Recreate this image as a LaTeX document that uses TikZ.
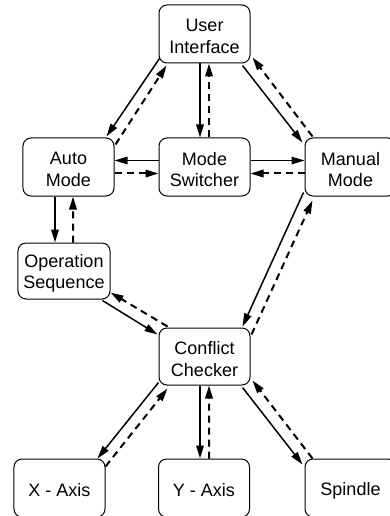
\documentclass[tikz,border=0pt]{standalone}
\usepackage{fontspec}
\setmainfont{Liberation Sans}
\usetikzlibrary{arrows.meta}
\tikzset{
  box/.style={draw=black, line width=1bp, rounded corners=8bp, minimum width=91bp,
    minimum height=58bp, inner sep=0pt},
  lbl/.style={align=center, inner sep=0pt, yshift=-2.5bp,
    font=\fontsize{18bp}{21.3bp}\selectfont},
  txt/.style={label={[lbl]center:#1}},
  sol/.style={line width=1.5bp, -{Triangle[length=13bp,width=7.5bp]}},
  dsh/.style={line width=2bp, dash pattern=on 7bp off 5bp, -{Triangle[length=13bp,width=7.5bp]}},
}
\begin{document}
\begin{tikzpicture}[x=1bp,y=-1bp]
\useasboundingbox (0,0) rectangle (389,516);
\node[box, txt={User\\Interface}] (ui) at (204.5,34) {};
\node[box, txt={Auto\\Mode}] (auto) at (68.5,167) {};
\node[box, txt={Mode\\Switcher}] (ms) at (204.5,167) {};
\node[box, txt={Manual\\Mode}] (man) at (350.5,167) {};
\node[box, minimum width=92bp, minimum height=56bp, txt={Operation\\Sequence}] (op) at (64,271) {};
\node[box, minimum height=57bp, txt={Conflict\\Checker}] (cc) at (204.5,356.5) {};
\node[box, txt={X - Axis}] (xa) at (59.5,488) {};
\node[box, txt={Y - Axis}] (ya) at (204,488) {};
\node[box, txt={Spindle}] (sp) at (350.5,488) {};

\draw[sol] ([shift={(1,-5)}]ui.south west) -- ([shift={(-8,-1)}]auto.north east);
\draw[dsh] ([shift={(1,7)}]auto.north east) -- ([shift={(8,2)}]ui.south west);

\draw[sol] ([shift={(-4.5,0)}]ui.south) -- ([shift={(-4.5,0)}]ms.north);
\draw[dsh] ([shift={(4.5,0)}]ms.north) -- ([shift={(4.5,0)}]ui.south);

\draw[sol] ([shift={(-8,2)}]ui.south east) -- ([shift={(-2,5)}]man.north west);
\draw[dsh] ([shift={(8,-1)}]man.north west) -- ([shift={(2,-6)}]ui.south east);

\draw[sol] ([shift={(0,-6.5)}]ms.west) -- ([shift={(0,-6.5)}]auto.east);
\draw[dsh] ([shift={(0,6.5)}]auto.east) -- ([shift={(0,6.5)}]ms.west);
\draw[sol] ([shift={(0,-6.5)}]ms.east) -- ([shift={(0,-6.5)}]man.west);
\draw[dsh] ([shift={(0,6.5)}]man.west) -- ([shift={(0,6.5)}]ms.east);

\draw[sol] ([shift={(-13.5,0)}]auto.south) -- ([shift={(-9,0)}]op.north);
\draw[dsh] ([shift={(9,0)}]op.north) -- ([shift={(4.5,0)}]auto.south);

\draw[sol] ([shift={(-1,-4)}]man.south west) -- ([shift={(-8,-1)}]cc.north east);
\draw[dsh] ([shift={(1,7)}]cc.north east) -- ([shift={(8,4)}]man.south west);

\draw[sol] ([shift={(-8,1)}]op.south east) -- ([shift={(-1,7)}]cc.north west);
\draw[dsh] ([shift={(9,-1)}]cc.north west) -- ([shift={(0,-7)}]op.south east);

\draw[sol] ([shift={(0,-3)}]cc.south west) -- ([shift={(-8,0)}]xa.north east);
\draw[dsh] ([shift={(0,8)}]xa.north east) -- ([shift={(9,3)}]cc.south west);

\draw[sol] ([shift={(-4.5,0)}]cc.south) -- ([shift={(-4,0)}]ya.north);
\draw[dsh] ([shift={(5,0)}]ya.north) -- ([shift={(4.5,0)}]cc.south);

\draw[sol] ([shift={(-8,2)}]cc.south east) -- ([shift={(-2,6)}]sp.north west);
\draw[dsh] ([shift={(8,0)}]sp.north west) -- ([shift={(2,-5)}]cc.south east);
\end{tikzpicture}
\end{document}
